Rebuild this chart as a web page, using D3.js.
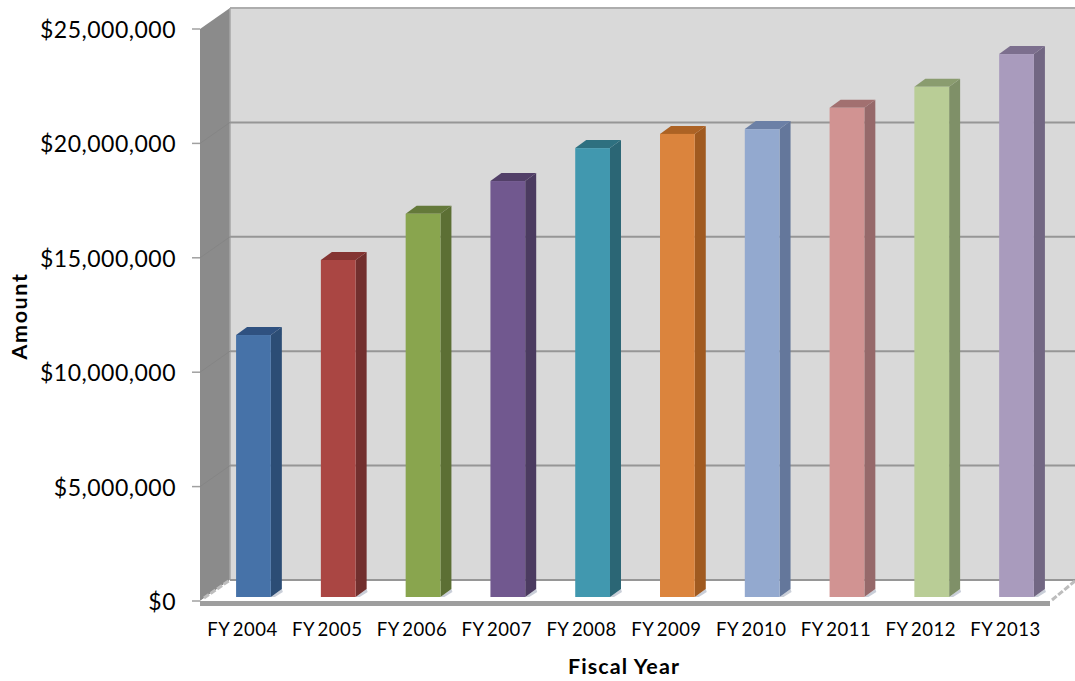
<!DOCTYPE html>
<html><head><meta charset="utf-8">
<style>html,body{margin:0;padding:0;background:#fff}svg{display:block}text{font-family:Lato,"Open Sans",sans-serif;fill:#000}</style>
<script src="https://cdn.jsdelivr.net/npm/d3@7"></script></head><body><svg id="c" width="1075" height="681"></svg>
<script>
const categories=["FY 2004","FY 2005","FY 2006","FY 2007","FY 2008","FY 2009","FY 2010","FY 2011","FY 2012","FY 2013"];
const amounts=[11450000,14730000,16750000,18180000,19620000,20240000,20450000,21380000,22300000,23730000];
const faceColors=["#4672a8","#aa4643","#89a54e","#71588f","#4198af","#db843d","#93a9cf","#d19392","#b9cd96","#a99bbd"];
const sideColors=["#2c4d75","#722f2e","#5c6f34","#4b3b60","#2b6675","#a05a20","#64779b","#96696a","#7f9068","#726783"];
const topColors=["#2f5180","#843432","#64793a","#523f68","#2e7080","#ac6224","#6c80a6","#a27070","#8a9c6f","#7c6f8e"];
const yTicks=[0,5000000,10000000,15000000,20000000,25000000];
const svg=d3.select("#c");
const y=d3.scaleLinear().domain([0,25000000]).range([601,29]);
const x=d3.scaleBand().domain(categories).range([211.5,1058.5]).paddingInner(0.59).paddingOuter(0.29);
const wall={dx:30,dy:-21}, barOff={dx:0,dy:-4}, depth={dx:11,dy:-8};
const W=1075, xL=200, xR=1050;
const poly=(pts,fill,cls)=>svg.append("polygon").attr("points",pts.map(p=>p.join(",")).join(" ")).attr("fill",fill).attr("class",cls||null);
poly([[xL+wall.dx,y(25000000)+wall.dy],[W,y(25000000)+wall.dy],[W,y(0)+wall.dy],[xL+wall.dx,y(0)+wall.dy]],"#d9d9d9");
poly([[xL,y(25000000)],[xL+wall.dx,y(25000000)+wall.dy],[xL+wall.dx,y(0)+wall.dy],[xL,y(0)]],"#8b8b8b");
poly([[xL,y(0)],[xL+wall.dx,y(0)+wall.dy],[W,y(0)+wall.dy],[xR,y(0)]],"#ffffff");
svg.append("line").attr("x1",xL+wall.dx).attr("x2",W).attr("y1",y(25000000)+wall.dy).attr("y2",y(25000000)+wall.dy).attr("stroke","#adadad").attr("stroke-width",2);
svg.append("line").attr("x1",xL+wall.dx).attr("x2",xL+wall.dx).attr("y1",y(25000000)+wall.dy).attr("y2",y(0)+wall.dy).attr("stroke","#a6a6a6").attr("stroke-width",1.5);
const grid=yTicks.slice(0,5);
svg.append("g").selectAll("line").data(grid).join("line")
 .attr("x1",xL+wall.dx).attr("x2",W).attr("y1",d=>y(d)+wall.dy).attr("y2",d=>y(d)+wall.dy)
 .attr("stroke","#969696").attr("stroke-width",2);
svg.append("g").selectAll("line").data(grid.slice(1)).join("line")
 .attr("x1",xL).attr("x2",xL+wall.dx).attr("y1",d=>y(d)).attr("y2",d=>y(d)+wall.dy)
 .attr("stroke","#858585").attr("stroke-width",1);
[[xL+4,y(0)-3,xL+wall.dx,y(0)+wall.dy],[xR+2,y(0)-1,W,y(0)+wall.dy+1]].forEach(l=>
 svg.append("line").attr("x1",l[0]).attr("y1",l[1]).attr("x2",l[2]).attr("y2",l[3]).attr("stroke","#bdbdbd").attr("stroke-width",3).attr("stroke-dasharray","6 2"));
svg.append("rect").attr("x",xL).attr("y",y(0)).attr("width",xR-xL).attr("height",5).attr("fill","#9e9e9e");
svg.append("g").selectAll("line").data(yTicks).join("line")
 .attr("x1",xL-8).attr("x2",xL).attr("y1",d=>y(d)).attr("y2",d=>y(d)).attr("stroke","#a0a0a0").attr("stroke-width",1.5);
const by=v=>y(v)+barOff.dy;
const g=svg.append("g").selectAll("g").data(categories).join("g");
const bw=x.bandwidth();
g.each(function(c,i){
 const s=d3.select(this), xx=x(c), t=by(amounts[i]), b=by(0);
 const p=(pts,f)=>s.append("polygon").attr("points",pts.map(q=>q.join(",")).join(" ")).attr("fill",f);
 p([[xx+bw,b],[xx+bw+depth.dx,b+depth.dy],[xx+bw+depth.dx+1,b+depth.dy+3],[xx+bw+4,b]],"#c9ced8");
 p([[xx+bw,t],[xx+bw+depth.dx,t+depth.dy],[xx+bw+depth.dx,b+depth.dy],[xx+bw,b]],sideColors[i]);
 p([[xx,t],[xx+depth.dx,t+depth.dy],[xx+bw+depth.dx,t+depth.dy],[xx+bw,t]],topColors[i]);
 s.append("rect").attr("x",xx).attr("y",t).attr("width",bw).attr("height",b-t).attr("fill",faceColors[i]);
});
svg.append("g").selectAll("text").data(yTicks).join("text")
 .attr("x",176).attr("y",d=>y(d)+9).attr("text-anchor","end").attr("font-size",23).attr("letter-spacing",0.5).text(d3.format("$,.0f"));
svg.append("g").selectAll("text").data(categories).join("text")
 .attr("x",d=>x(d)+bw/2-11).attr("y",636).attr("text-anchor","middle").attr("font-size",18.5).attr("word-spacing",-2).attr("letter-spacing",0.5).text(d=>d);
svg.append("text").attr("x",624).attr("y",674).attr("text-anchor","middle").attr("font-size",21.5).attr("letter-spacing",1.1).attr("font-weight",700).text("Fiscal Year");
svg.append("text").attr("transform","translate(27,316) rotate(-90)").attr("text-anchor","middle").attr("font-size",21.5).attr("letter-spacing",1.6).attr("font-weight",700).text("Amount");
</script></body></html>
